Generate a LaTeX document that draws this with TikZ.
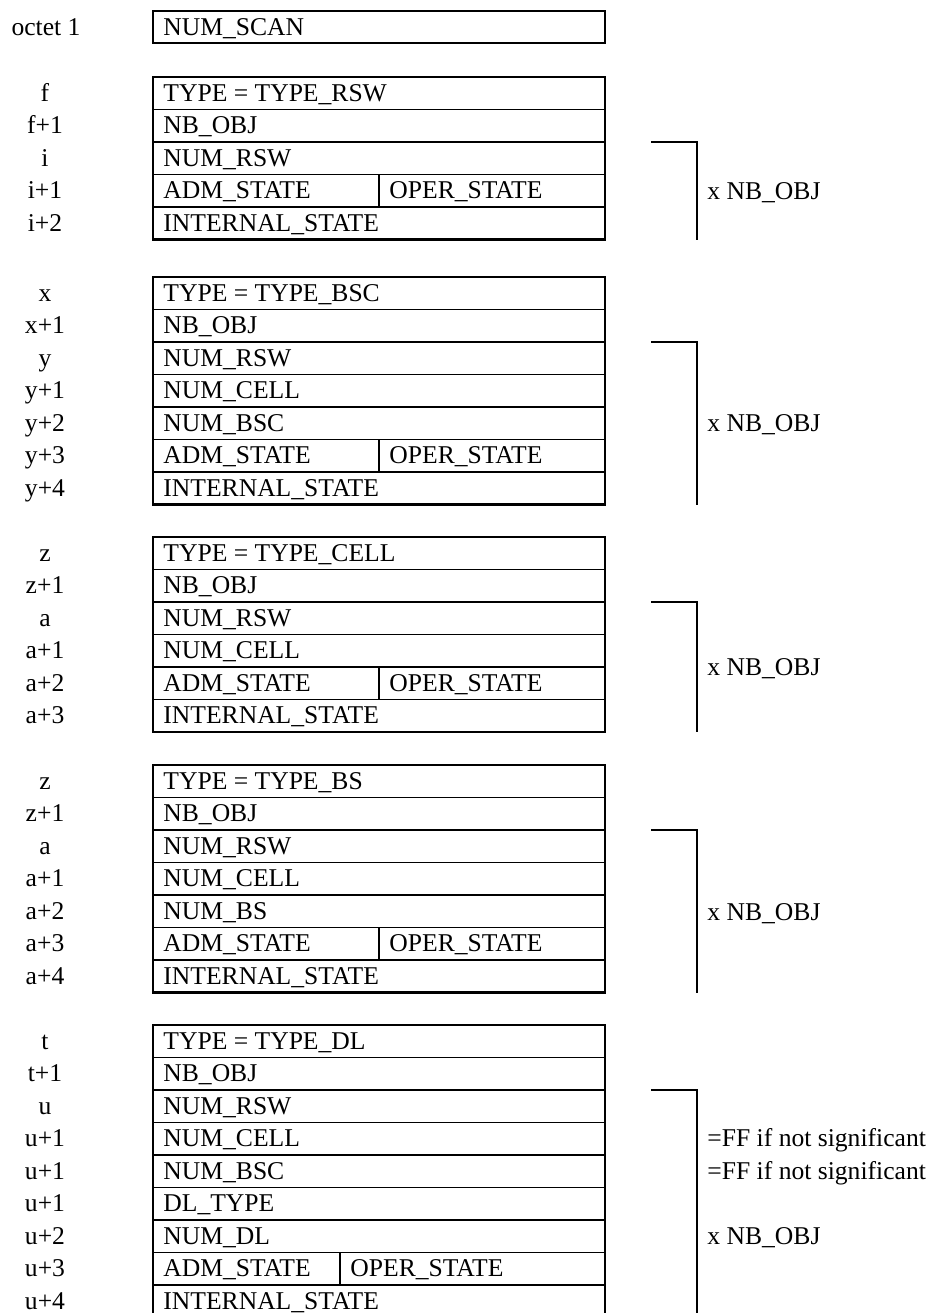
\documentclass[tikz,border=0pt]{standalone}
\usepackage{fontspec}
\setmainfont{Liberation Serif}
\usepackage{tikz}

\begin{document}
\begin{tikzpicture}[x=0.5pt,y=-0.5pt,
font=\fontsize{12.8}{15}\selectfont,
octet/.style={anchor=base,inner sep=0pt},
field/.style={anchor=base west,inner sep=0pt},
note/.style={anchor=base west,inner sep=0pt},
frame/.style={line width=1.25pt},
rowline/.style={line width=0.9pt},
bracket/.style={line width=1.4pt}]
\useasboundingbox (0,0) rectangle (939,1313);

% octet 1
\draw[frame](153,11) rectangle (605,43);
\node[octet](oct1) at (46,35) {octet 1};
\node[field](scan) at (163,35) {NUM\_SCAN};

% TYPE_RSW, top 77
\foreach \lab/\txt [count=\k from 0] in {f/TYPE = TYPE\_RSW,f+1/NB\_OBJ,i/NUM\_RSW,i+1/ADM\_STATE,i+2/INTERNAL\_STATE}{
\node[octet](rswl\k) at (45,101+\k*32.5) {\lab};
\node[field](rswf\k) at (163,101+\k*32.5) {\txt};
\draw[rowline](153,77+\k*32.5)--(605,77+\k*32.5);
}
\draw[frame](153,77) rectangle (605,239.5);
\draw[rowline](379,174.5)--(379,207);
\node[field](rswoper) at (389,198.5) {OPER\_STATE};
\draw[bracket](651,142)--(697,142)--(697,239.5);
\node[note](rswn) at (707,199) {x NB\_OBJ};

% TYPE_BSC, top 277
\foreach \lab/\txt [count=\k from 0] in {x/TYPE = TYPE\_BSC,x+1/NB\_OBJ,y/NUM\_RSW,y+1/NUM\_CELL,y+2/NUM\_BSC,y+3/ADM\_STATE,y+4/INTERNAL\_STATE}{
\node[octet](bscl\k) at (45,301+\k*32.5) {\lab};
\node[field](bscf\k) at (163,301+\k*32.5) {\txt};
\draw[rowline](153,277+\k*32.5)--(605,277+\k*32.5);
}
\draw[frame](153,277) rectangle (605,504.5);
\draw[rowline](379,439.5)--(379,472);
\node[field](bscoper) at (389,463.5) {OPER\_STATE};
\draw[bracket](651,342)--(697,342)--(697,504.5);
\node[note](bscn) at (707,431.5) {x NB\_OBJ};

% TYPE_CELL, top 537
\foreach \lab/\txt [count=\k from 0] in {z/TYPE = TYPE\_CELL,z+1/NB\_OBJ,a/NUM\_RSW,a+1/NUM\_CELL,a+2/ADM\_STATE,a+3/INTERNAL\_STATE}{
\node[octet](celll\k) at (45,561+\k*32.5) {\lab};
\node[field](cellf\k) at (163,561+\k*32.5) {\txt};
\draw[rowline](153,537+\k*32.5)--(605,537+\k*32.5);
}
\draw[frame](153,537) rectangle (605,732);
\draw[rowline](379,667)--(379,699.5);
\node[field](celloper) at (389,691) {OPER\_STATE};
\draw[bracket](651,602)--(697,602)--(697,732);
\node[note](celln) at (707,675.5) {x NB\_OBJ};

% TYPE_BS, top 765
\foreach \lab/\txt [count=\k from 0] in {z/TYPE = TYPE\_BS,z+1/NB\_OBJ,a/NUM\_RSW,a+1/NUM\_CELL,a+2/NUM\_BS,a+3/ADM\_STATE,a+4/INTERNAL\_STATE}{
\node[octet](bsl\k) at (45,789+\k*32.5) {\lab};
\node[field](bsf\k) at (163,789+\k*32.5) {\txt};
\draw[rowline](153,765+\k*32.5)--(605,765+\k*32.5);
}
\draw[frame](153,765) rectangle (605,992.5);
\draw[rowline](379,927.5)--(379,960);
\node[field](bsoper) at (389,951.5) {OPER\_STATE};
\draw[bracket](651,830)--(697,830)--(697,992.5);
\node[note](bsn) at (707,920) {x NB\_OBJ};

% TYPE_DL, top 1025, runs off the page
\foreach \lab/\txt [count=\k from 0] in {t/TYPE = TYPE\_DL,t+1/NB\_OBJ,u/NUM\_RSW,u+1/NUM\_CELL,u+1/NUM\_BSC,u+1/DL\_TYPE,u+2/NUM\_DL,u+3/ADM\_STATE,u+4/INTERNAL\_STATE}{
\node[octet](dll\k) at (45,1049+\k*32.5) {\lab};
\node[field](dlf\k) at (163,1049+\k*32.5) {\txt};
\draw[rowline](153,1025+\k*32.5)--(605,1025+\k*32.5);
}
\draw[frame](153,1313)|-(605,1025)--(605,1313);
\draw[rowline](340,1252.5)--(340,1285);
\node[field](dloper) at (350,1276.5) {OPER\_STATE};
\draw[bracket](651,1090)--(697,1090)--(697,1313);
\node[note](dlff1) at (707,1146.5) {=FF if not significant};
\node[note](dlff2) at (707,1179) {=FF if not significant};
\node[note](dln) at (707,1244) {x NB\_OBJ};
\end{tikzpicture}
\end{document}
